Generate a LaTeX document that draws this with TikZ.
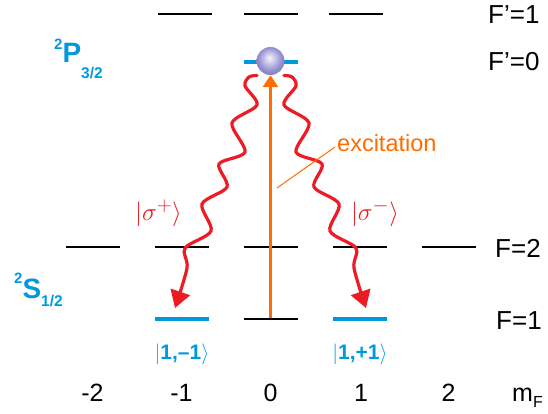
\documentclass[tikz,border=0pt]{standalone}
\usepackage{fontspec}
\setmainfont{Liberation Sans}
\usetikzlibrary{arrows.meta,calc}
\definecolor{lblue}{RGB}{0,153,221}
\definecolor{wred}{RGB}{237,28,36}
\definecolor{xorange}{RGB}{255,108,0}
\definecolor{ballc}{RGB}{136,132,204}
\pgfdeclareradialshading{atomshade}{\pgfpoint{-2bp}{6bp}}{%
  color(0bp)=(white!92!ballc); color(5bp)=(white!72!ballc);
  color(20bp)=(white!12!ballc); color(34bp)=(ballc!85!black); color(50bp)=(ballc!72!black)}
\begin{document}
\begin{tikzpicture}[x=1pt,y=-1pt,
  lvl/.style={fill=black,draw=none,minimum width=54pt,minimum height=2.4pt,inner sep=0pt,outer sep=0pt},
  blvl/.style={fill=lblue,draw=none,minimum width=54pt,minimum height=4pt,inner sep=0pt,outer sep=0pt},
  flab/.style={anchor=west,inner sep=0pt,font=\fontsize{26}{28}\selectfont},
  mlab/.style={anchor=base,inner sep=0pt,font=\fontsize{25}{27}\selectfont},
  termlab/.style={anchor=base west,inner sep=0pt,text=lblue,font=\bfseries\fontsize{28}{28}\selectfont},
  ketlab/.style={inner sep=0pt,text=lblue,font=\fontsize{21}{21}\selectfont},
  siglab/.style={inner sep=0pt,text=wred,font=\fontsize{30}{32}\selectfont},
  wave/.style={draw=wred,line width=3.2pt,line cap=round,-{Triangle[length=17pt,width=20pt]}},
  excarrow/.style={draw=xorange,line width=3pt,-{Triangle[length=12pt,width=15pt]}},
  leader/.style={draw=xorange,line width=1pt}
]
\useasboundingbox (0,0) rectangle (548,414);

% F'=1 levels
\node[lvl] (pa) at (185,14) {};
\node[lvl] (pb) at (270.5,14) {};
\node[lvl] (pc) at (356,14) {};
% F'=0 level
\node[blvl] (e0) at (270.5,62) {};
% F=2 levels
\node[lvl] (fa) at (92.5,247) {};
\node[lvl] (fb) at (181.5,247) {};
\node[lvl] (fc) at (270.5,247) {};
\node[lvl] (fd) at (359.5,247) {};
\node[lvl] (fe) at (448.5,247) {};
% F=1 levels
\node[blvl] (ga) at (181.5,319) {};
\node[lvl] (gb) at (270.5,319) {};
\node[blvl] (gc) at (359.5,319) {};

% atom
\node[circle,minimum size=28pt,inner sep=0pt,shading=atomshade] (atom) at (270.5,61) {};

% excitation arrow
\draw[excarrow] (gb.north) -- (atom.south);

% spontaneous emission waves
\draw[wave] plot[smooth] coordinates {(257,75.5) (249,77) (245,86) (257,105) (232,123) (245,152) (219,164) (227,187) (202,204) (211,231) (185,248) (187,268) (175,308)};
\draw[wave] plot[smooth] coordinates {(284,75.5) (292,77) (296,86) (284,105) (309,123) (296,152) (322,164) (314,187) (339,204) (330,231) (356,248) (354,268) (366,308)};

% excitation label
\node[inner sep=0pt,anchor=west,text=xorange,font=\fontsize{23.5}{25}\selectfont] (exc) at (337,143) {excitation};
\coordinate (leadA) at (277,188);
\coordinate (leadB) at (335,147);
\draw[leader] (leadA) -- (leadB);

% level labels
\node[flab] (lF1p) at (488,15) {F’=1};
\node[flab] (lF0p) at (488,62) {F’=0};
\node[flab] (lF2) at (495,248) {F=2};
\node[flab] (lF1) at (496,321) {F=1};

% term symbols
\node[termlab] (tP) at (54,63) {\raisebox{13pt}{\fontsize{15}{15}\selectfont 2}P\raisebox{-15.5pt}{\fontsize{15.5}{16}\selectfont 3/2}};
\node[termlab] (tS) at (14,298) {\raisebox{15pt}{\fontsize{15}{15}\selectfont 2}S\raisebox{-8.5pt}{\fontsize{15.5}{16}\selectfont 1/2}};

% polarisation labels
\node[siglab] (sp) at (158.5,213) {$|\sigma^{+}\rangle$};
\node[siglab] (sm) at (375,213) {$|\sigma^{-}\rangle$};

% kets
\node[ketlab] (ka) at (182,354) {$\Big|$\textbf{1,–1}$\Big\rangle$};
\node[ketlab] (kc) at (360,354) {$\Big|$\textbf{1,+1}$\Big\rangle$};

% m_F row
\node[mlab] (m1) at (92.5,401) {-2};
\node[mlab] (m2) at (181.5,401) {-1};
\node[mlab] (m3) at (270.5,401) {0};
\node[mlab] (m4) at (361,401) {1};
\node[mlab] (m5) at (448.5,401) {2};
\node[mlab,anchor=base west] (mF) at (512,401) {m\raisebox{-6pt}{\fontsize{16}{16}\selectfont F}};
\end{tikzpicture}
\end{document}
